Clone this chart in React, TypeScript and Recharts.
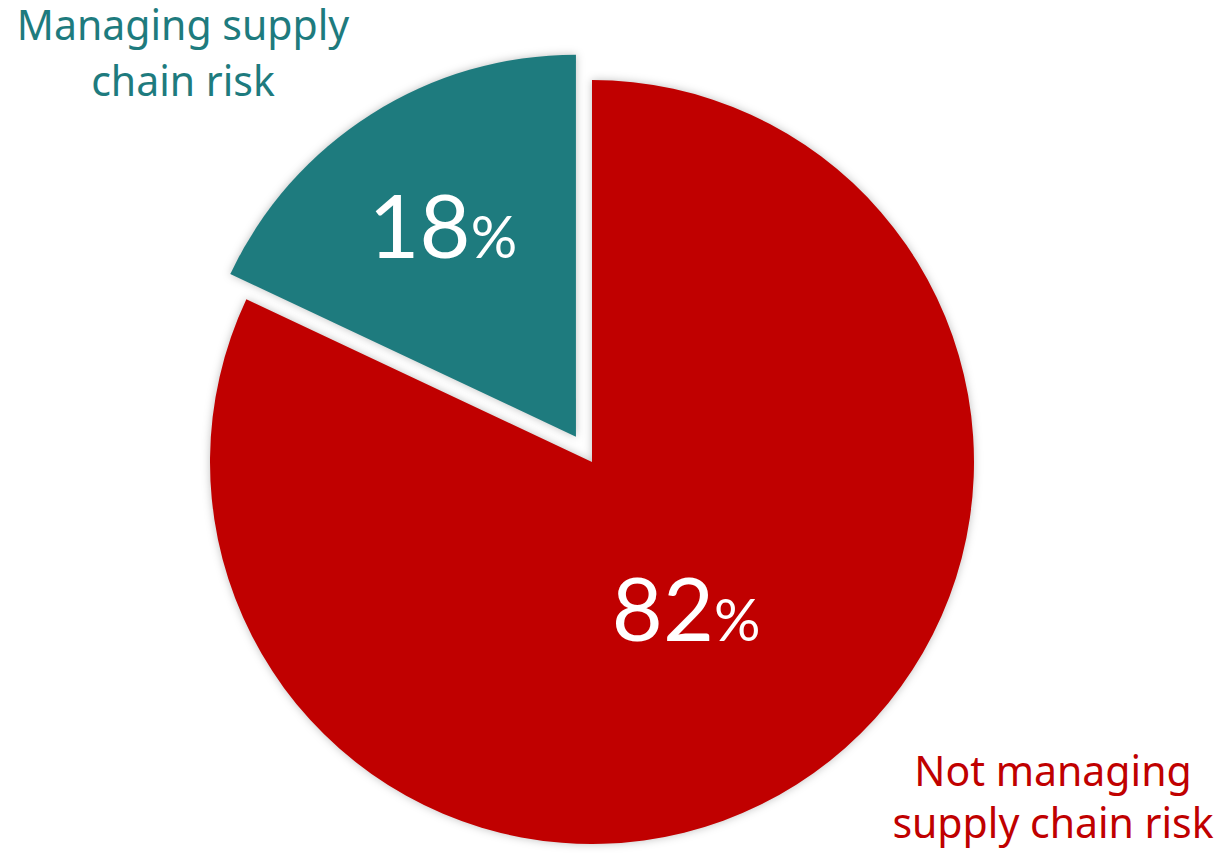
import { PieChart, Pie, Cell } from "recharts";

const categories = ["Not managing supply chain risk", "Managing supply chain risk"];
const shares = [82, 18];
const colors = ["#C00000", "#1E7B7E"];
const labelLines = [
    ["Not managing", "supply chain risk"],
    ["Managing supply", "chain risk"],
];

const data = categories.map((name, i) => ({ name, value: shares[i] }));

const CX = 592;
const CY = 462;
const R = 382;
const EXPLODE = 30;

// mid angle of the pulled-out slice (recharts degrees, start at 90 going clockwise)
const total = shares.reduce((a, b) => a + b, 0);
const tealMid = 90 - (360 * shares[0]) / total - (360 * shares[1]) / total / 2;
const dx = EXPLODE * Math.cos((tealMid * Math.PI) / 180);
const dy = -EXPLODE * Math.sin((tealMid * Math.PI) / 180);

const shadow = { filter: "drop-shadow(0px 0px 4px rgba(0,0,0,0.25))" };

const renderPct = (only: number) => (props: any) => {
    const { cx, cy, midAngle, outerRadius, index, value } = props;
    if (index !== only) return null;
    const f = index === 0 ? 0.46 : 0.65;
    const rad = (midAngle * Math.PI) / 180;
    const x = cx + outerRadius * f * Math.cos(rad);
    const y = cy - outerRadius * f * Math.sin(rad);
    return (
        <text
            x={x}
            y={y + 31}
            textAnchor="middle"
            fill="#ffffff"
            fontFamily="Lato, 'Noto Sans', sans-serif"
        >
            <tspan fontSize={88}>{value}</tspan>
            <tspan fontSize={58}>%</tspan>
        </text>
    );
};

const App = () => {
    return (
        <div style={{ position: "absolute", left: 0, top: 0, width: 1226, height: 853 }}>
            <PieChart width={1226} height={853} margin={{ top: 0, right: 0, bottom: 0, left: 0 }}>
                <Pie
                    data={data}
                    dataKey="value"
                    cx={CX}
                    cy={CY}
                    outerRadius={R}
                    startAngle={90}
                    endAngle={-270}
                    stroke="none"
                    label={renderPct(0)}
                    labelLine={false}
                    isAnimationActive={false}
                >
                    {data.map((d, i) => (
                        <Cell key={d.name} fill={i === 0 ? colors[0] : "none"} style={i === 0 ? shadow : undefined} />
                    ))}
                </Pie>
                <Pie
                    data={data}
                    dataKey="value"
                    cx={CX + dx}
                    cy={CY + dy}
                    outerRadius={R}
                    startAngle={90}
                    endAngle={-270}
                    stroke="none"
                    label={renderPct(1)}
                    labelLine={false}
                    isAnimationActive={false}
                >
                    {data.map((d, i) => (
                        <Cell key={d.name} fill={i === 1 ? colors[1] : "none"} style={i === 1 ? shadow : undefined} />
                    ))}
                </Pie>
                <text textAnchor="middle" fill={colors[1]} fontFamily="'Noto Sans', sans-serif" fontSize={41}>
                    <tspan x={183} y={40}>{labelLines[1][0]}</tspan>
                    <tspan x={183} y={96}>{labelLines[1][1]}</tspan>
                </text>
                <text textAnchor="middle" fill={colors[0]} fontFamily="'Noto Sans', sans-serif" fontSize={41}>
                    <tspan x={1053} y={786}>{labelLines[0][0]}</tspan>
                    <tspan x={1053} y={838}>{labelLines[0][1]}</tspan>
                </text>
            </PieChart>
        </div>
    );
};

export default App;
